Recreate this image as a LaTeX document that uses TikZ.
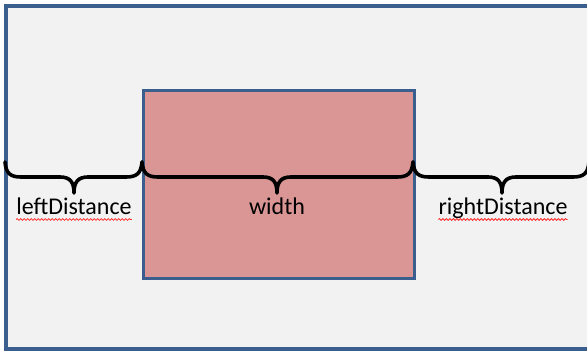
\documentclass[tikz,border=0pt]{standalone}
\usepackage{fontspec}
\setmainfont{Carlito}
\usetikzlibrary{decorations.pathmorphing}
\definecolor{frameblue}{HTML}{3A5F8F}
\definecolor{panelgrey}{HTML}{F2F2F2}
\definecolor{boxred}{HTML}{D99694}
\tikzset{
  panel/.style={draw=frameblue, line width=3.6pt, fill=panelgrey},
  areabox/.style={draw=frameblue, line width=2.8pt, fill=boxred},
  bracepath/.style={draw=black, line width=3.6pt, line cap=round, line join=round},
  dimlabel/.style={font=\fontsize{24}{28}\selectfont, anchor=base, inner sep=0pt},
  squiggle/.style={draw=red!85!white, line width=0.8pt,
    decorate, decoration={snake, amplitude=0.9pt, segment length=3.5pt}}
}
% horizontal curly brace opening downwards between x=#1 and x=#3, tip at x=#2
\newcommand{\hbrace}[3]{%
  \draw[bracepath] (#1,162) .. controls (#1+1,174) and (#1+6,177) .. (#1+16,177)
    -- (#2-14,177) .. controls (#2-4,177) and (#2,182) .. (#2,193)
    .. controls (#2,182) and (#2+4,177) .. (#2+14,177)
    -- (#3-16,177) .. controls (#3-6,177) and (#3-1,174) .. (#3,162);}
\begin{document}
\begin{tikzpicture}[x=1pt,y=-1pt]
  \useasboundingbox[fill=white] (0,0) rectangle (587,352);
  \begin{scope}
    \clip (0,0) rectangle (587,352);
    \path[panel] (6,6) rectangle (600,349);
  \end{scope}
  \node[areabox, minimum width=271pt, minimum height=188pt, inner sep=0pt,
        anchor=north west] (box) at (142,89) {};
  % braces
  \hbrace{5}{74}{142}
  \hbrace{142}{277}{413}
  \hbrace{413}{502}{589}
  % labels
  \node[dimlabel] (left) at (74,215) {leftDistance};
  \node[dimlabel] (wid) at (277,215) {width};
  \node[dimlabel] (right) at (503,215) {rightDistance};
  \path[squiggle] ([yshift=-4.5pt]left.base west) -- ([yshift=-4.5pt]left.base east);
  \path[squiggle] ([yshift=-4.5pt]right.base west) -- ([yshift=-4.5pt]right.base east);
\end{tikzpicture}
\end{document}
